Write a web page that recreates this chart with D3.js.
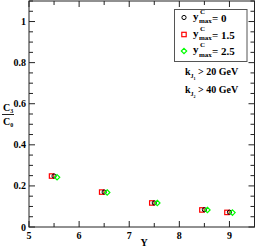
<!DOCTYPE html>
<html><head><meta charset="utf-8">
<script src="https://cdn.jsdelivr.net/npm/d3@7"></script>
<style>body{margin:0;background:#fff}svg{display:block}text{font-family:"Liberation Serif","DejaVu Serif",serif;font-weight:bold}</style>
</head><body><svg id="c" width="256" height="247"></svg>
<script>
const rapidity = [5.5, 6.5, 7.5, 8.5, 9.0];
const seriesNames = ["0", "1.5", "2.5"];
const xOffsets = [0, -0.05, 0.06];
const ratio0 = [0.248, 0.170, 0.117, 0.084, 0.072];
const ratio15 = [0.248, 0.170, 0.117, 0.083, 0.071];
const ratio25 = [0.242, 0.168, 0.117, 0.083, 0.070];
const colors = ["#000000", "#ff0000", "#00ff00"];
const xTicks = [5, 6, 7, 8, 9];
const yTicks = [0, 0.2, 0.4, 0.6, 0.8, 1];

const svg = d3.select("#c");
const L = 29, R = 254.5, T = 1, B = 227;
const x = d3.scaleLinear().domain([5, 9.5]).range([L, R]);
const y = d3.scaleLinear().domain([0, 1.1]).range([B, T]);
const axc = "#222";

svg.append("rect").attr("x", L).attr("y", T).attr("width", R - L).attr("height", B - T)
  .attr("fill", "none").attr("stroke", axc).attr("stroke-width", 1);

const xMinor = d3.range(5, 9.51, 0.5);
const yMinor = d3.range(0, 1.101, 0.05);
const g = svg.append("g").attr("stroke", axc).attr("stroke-width", 1);
xMinor.forEach(v => {
  const major = Math.abs(v - Math.round(v)) < 1e-6;
  const len = major ? 6 : 4;
  g.append("line").attr("x1", x(v)).attr("x2", x(v)).attr("y1", B).attr("y2", B - len);
  g.append("line").attr("x1", x(v)).attr("x2", x(v)).attr("y1", T).attr("y2", T + len);
});
yMinor.forEach(v => {
  const major = Math.abs(v * 5 - Math.round(v * 5)) < 1e-6;
  const len = major ? 6 : 4;
  g.append("line").attr("y1", y(v)).attr("y2", y(v)).attr("x1", L).attr("x2", L + len);
  g.append("line").attr("y1", y(v)).attr("y2", y(v)).attr("x1", R).attr("x2", R - len);
});

svg.append("g").selectAll("text").data(xTicks).join("text")
  .attr("x", d => x(d)).attr("y", 239).attr("text-anchor", "middle")
  .attr("font-size", 10).text(d => d);
svg.append("g").selectAll("text").data(yTicks).join("text")
  .attr("x", 26).attr("y", d => y(d) + 3.5).attr("text-anchor", "end")
  .attr("font-size", 10).text(d => d);

svg.append("text").attr("x", 144).attr("y", 246).attr("text-anchor", "middle").attr("font-size", 10).text("Y");
const yl = svg.append("g");
yl.append("text").attr("x", 3).attr("y", 111).attr("font-size", 10)
  .html('C<tspan font-size="6" dy="2">3</tspan>');
yl.append("line").attr("x1", 2).attr("x2", 14).attr("y1", 114.5).attr("y2", 114.5).attr("stroke", axc);
yl.append("text").attr("x", 3).attr("y", 125).attr("font-size", 10)
  .html('C<tspan font-size="6" dy="2">0</tspan>');

const all = [ratio0, ratio15, ratio25];
function drawMarker(sel, i, cx, cy) {
  if (i === 0) sel.append("circle").attr("cx", cx).attr("cy", cy).attr("r", 2.1)
    .attr("fill", "none").attr("stroke", colors[0]).attr("stroke-width", 1);
  else if (i === 1) sel.append("rect").attr("x", cx - 2.2).attr("y", cy - 2.2).attr("width", 4.4).attr("height", 4.4)
    .attr("fill", "none").attr("stroke", colors[1]).attr("stroke-width", 1.2);
  else sel.append("path").attr("d", `M${cx},${cy - 2.7}L${cx + 2.7},${cy}L${cx},${cy + 2.7}L${cx - 2.7},${cy}Z`)
    .attr("fill", "none").attr("stroke", colors[2]).attr("stroke-width", 1.2);
}
const pts = svg.append("g");
[1, 0, 2].forEach(i => {
  all[i].forEach((v, j) => drawMarker(pts, i, x(rapidity[j] + xOffsets[i]), y(v)));
});

svg.append("rect").attr("x", 174.5).attr("y", 9.5).attr("width", 72.5).attr("height", 52)
  .attr("fill", "#fff").attr("stroke", "#555").attr("stroke-width", 1);
const rows = [17.5, 34.5, 51];
seriesNames.forEach((s, i) => {
  drawMarker(svg, i, 184, rows[i]);
  svg.append("text").attr("x", 193).attr("y", rows[i] + 2).attr("font-size", 11).text("y");
  svg.append("text").attr("x", 200).attr("y", rows[i] - 4).attr("font-size", 7).text("C");
  svg.append("text").attr("x", 199).attr("y", rows[i] + 5.5).attr("font-size", 7).text("max");
  svg.append("text").attr("x", 212).attr("y", rows[i] + 4).attr("font-size", 11).text("= " + s);
});

svg.append("text").attr("x", 185).attr("y", 75).attr("font-size", 10)
  .html('k<tspan font-size="6" dy="3">J</tspan><tspan font-size="4" dy="2">1</tspan><tspan dy="-5"> &gt; 20 GeV</tspan>');
svg.append("text").attr("x", 185).attr("y", 93).attr("font-size", 10)
  .html('k<tspan font-size="6" dy="3">J</tspan><tspan font-size="4" dy="2">2</tspan><tspan dy="-5"> &gt; 40 GeV</tspan>');
</script></body></html>
